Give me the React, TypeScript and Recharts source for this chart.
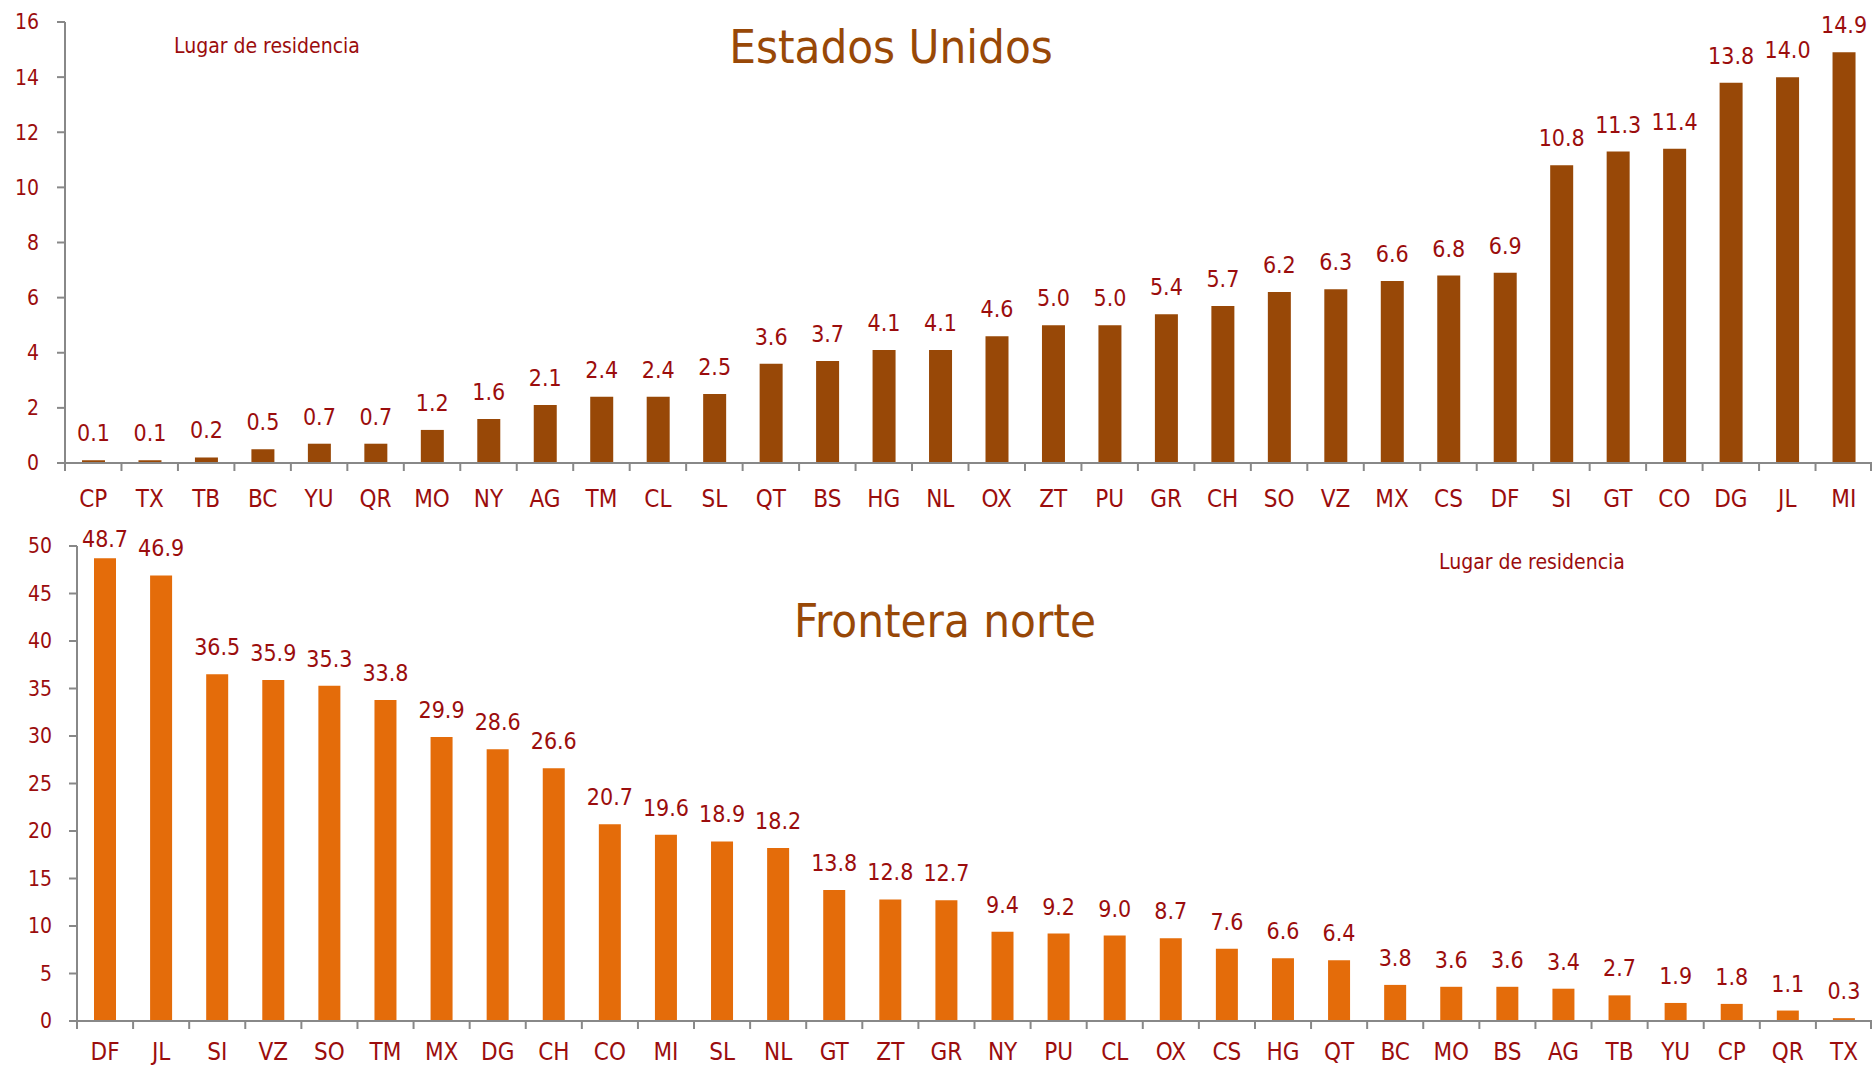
import React from 'react';
import { BarChart, Bar, XAxis, YAxis, LabelList } from 'recharts';

const FONT = "'DejaVu Sans Condensed', 'DejaVu Sans', sans-serif";
const RED = '#9B0D0D';
const AXIS = '#888888';
const US_COLOR = '#984807';
const FN_COLOR = '#E46C0A';
const TITLE_COLOR = '#984807';

const usCategories = ['CP', 'TX', 'TB', 'BC', 'YU', 'QR', 'MO', 'NY', 'AG', 'TM', 'CL', 'SL', 'QT', 'BS', 'HG', 'NL', 'OX', 'ZT', 'PU', 'GR', 'CH', 'SO', 'VZ', 'MX', 'CS', 'DF', 'SI', 'GT', 'CO', 'DG', 'JL', 'MI'];
const usValues = [0.1, 0.1, 0.2, 0.5, 0.7, 0.7, 1.2, 1.6, 2.1, 2.4, 2.4, 2.5, 3.6, 3.7, 4.1, 4.1, 4.6, 5.0, 5.0, 5.4, 5.7, 6.2, 6.3, 6.6, 6.8, 6.9, 10.8, 11.3, 11.4, 13.8, 14.0, 14.9];
const usTicks = [0, 2, 4, 6, 8, 10, 12, 14, 16];

const fnCategories = ['DF', 'JL', 'SI', 'VZ', 'SO', 'TM', 'MX', 'DG', 'CH', 'CO', 'MI', 'SL', 'NL', 'GT', 'ZT', 'GR', 'NY', 'PU', 'CL', 'OX', 'CS', 'HG', 'QT', 'BC', 'MO', 'BS', 'AG', 'TB', 'YU', 'CP', 'QR', 'TX'];
const fnValues = [48.7, 46.9, 36.5, 35.9, 35.3, 33.8, 29.9, 28.6, 26.6, 20.7, 19.6, 18.9, 18.2, 13.8, 12.8, 12.7, 9.4, 9.2, 9.0, 8.7, 7.6, 6.6, 6.4, 3.8, 3.6, 3.6, 3.4, 2.7, 1.9, 1.8, 1.1, 0.3];
const fnTicks = [0, 5, 10, 15, 20, 25, 30, 35, 40, 45, 50];

const usData = usCategories.map((c, i) => ({ cat: c, v: usValues[i] }));
const fnData = fnCategories.map((c, i) => ({ cat: c, v: fnValues[i] }));

function makeTick(bandWidth: number, count: number, labelDy: number) {
  return (props: any) => {
    const { x, y, payload, index } = props;
    return (
      <g>
        <line x1={x - bandWidth / 2} x2={x - bandWidth / 2} y1={y} y2={y + 8} stroke={AXIS} strokeWidth={2} />
        {index === count - 1 && (
          <line x1={x + bandWidth / 2 - 1} x2={x + bandWidth / 2 - 1} y1={y} y2={y + 8} stroke={AXIS} strokeWidth={2} />
        )}
        <text x={x} y={y + labelDy} textAnchor="middle" fill={RED} fontSize={24} fontFamily={FONT}>
          {payload.value}
        </text>
      </g>
    );
  };
}

function makeLabel(offset: number, minY: number) {
  return (props: any) => {
    const { x, y, width, value } = props;
    const ty = Math.max(Number(y) - offset, minY);
    return (
      <text x={Number(x) + Number(width) / 2} y={ty} textAnchor="middle" fill={RED} fontSize={23} fontFamily={FONT}>
        {Number(value).toFixed(1)}
      </text>
    );
  };
}

const usBand = (1872 - 65) / usCategories.length;
const fnBand = (1872 - 77) / fnCategories.length;

export default function App() {
  return (
    <div style={{ position: 'absolute', left: 0, top: 0, width: 1872, height: 1067, background: '#fff', fontFamily: FONT, overflow: 'hidden' }}>
      <div style={{ position: 'absolute', left: 0, top: 0 }}>
        <BarChart width={1872} height={520} data={usData} margin={{ top: 22, right: 0, left: 0, bottom: 0 }} barSize={23}>
          <XAxis
            dataKey="cat"
            interval={0}
            height={57}
            tickLine={false}
            tickSize={0}
            tickMargin={0}
            axisLine={{ stroke: AXIS, strokeWidth: 2 }}
            tick={makeTick(usBand, usCategories.length, 44)}
          />
          <YAxis
            width={65}
            domain={[0, 16]}
            ticks={usTicks}
            interval={0}
            tickSize={8}
            tickMargin={18}
            tickLine={{ stroke: AXIS, strokeWidth: 2 }}
            axisLine={{ stroke: AXIS, strokeWidth: 2 }}
            tick={{ fill: RED, fontSize: 21, fontFamily: FONT }}
          />
          <Bar dataKey="v" fill={US_COLOR} isAnimationActive={false}>
            <LabelList dataKey="v" content={makeLabel(19, 20)} />
          </Bar>
        </BarChart>
      </div>
      <div style={{ position: 'absolute', left: 0, top: 520 }}>
        <BarChart width={1872} height={547} data={fnData} margin={{ top: 26, right: 0, left: 0, bottom: 0 }} barSize={22}>
          <XAxis
            dataKey="cat"
            interval={0}
            height={46}
            tickLine={false}
            tickSize={0}
            tickMargin={0}
            axisLine={{ stroke: AXIS, strokeWidth: 2 }}
            tick={makeTick(fnBand, fnCategories.length, 39)}
          />
          <YAxis
            width={77}
            domain={[0, 50]}
            ticks={fnTicks}
            interval={0}
            tickSize={8}
            tickMargin={17}
            tickLine={{ stroke: AXIS, strokeWidth: 2 }}
            axisLine={{ stroke: AXIS, strokeWidth: 2 }}
            tick={{ fill: RED, fontSize: 21, fontFamily: FONT }}
          />
          <Bar dataKey="v" fill={FN_COLOR} isAnimationActive={false}>
            <LabelList dataKey="v" content={makeLabel(19, 27)} />
          </Bar>
        </BarChart>
      </div>
      <svg width={1872} height={1067} style={{ position: 'absolute', left: 0, top: 0, pointerEvents: 'none' }}>
        <text x={891} y={63} textAnchor="middle" fill={TITLE_COLOR} fontSize={47} fontFamily={FONT}>Estados Unidos</text>
        <text x={945} y={637} textAnchor="middle" fill={TITLE_COLOR} fontSize={47} fontFamily={FONT}>Frontera norte</text>
        <text x={174} y={53} fill={RED} fontSize={21} fontFamily={FONT}>Lugar de residencia</text>
        <text x={1439} y={569} fill={RED} fontSize={21} fontFamily={FONT}>Lugar de residencia</text>
      </svg>
    </div>
  );
}
